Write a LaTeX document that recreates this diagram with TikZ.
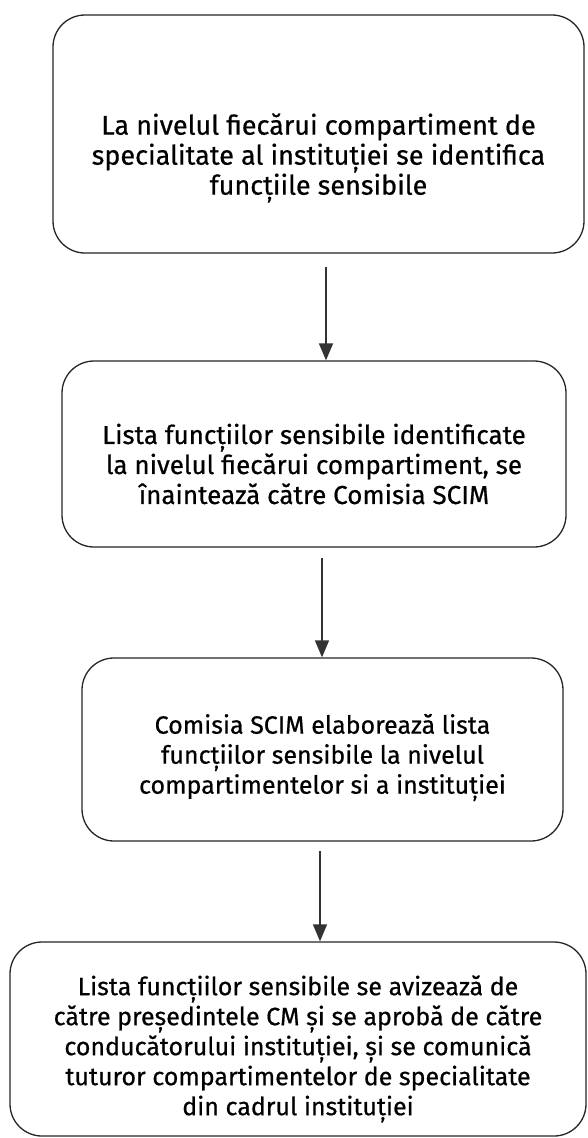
\documentclass[tikz,border=0pt]{standalone}
\usepackage{fontspec}
\setmainfont{Fira Sans}[FakeBold=0.6]
\usetikzlibrary{arrows.meta}
\begin{document}
\begin{tikzpicture}[x=1pt,y=1pt,
  flowbox/.style={draw=black!85, line width=1.3pt, rounded corners=32pt, inner sep=0pt},
  flowtext/.style={align=center, inner sep=0pt},
  arr/.style={draw=black!80, line width=1.5pt, -{Triangle[width=14pt,length=17pt]}}]
\useasboundingbox (0,0) rectangle (587,-1138);
\fill[white] (0,0) rectangle (587,-1138);
\node[flowbox, minimum width=531pt, minimum height=238pt] (b1) at (318.5,-134) {};
\node[flowtext, font=\fontsize{27}{30}\selectfont] (t1) at ([yshift=-24pt]b1.center)
  {La nivelul fiecărui compartiment de\\ specialitate al instituției se identifica\\ funcțiile sensibile};
\node[flowbox, minimum width=504pt, minimum height=186pt] (b2) at (314,-454) {};
\node[flowtext, font=\fontsize{26}{30}\selectfont] (t2) at ([yshift=-10pt]b2.center)
  {Lista funcțiilor sensibile identificate\\ la nivelul fiecărui compartiment, se\\ înaintează către Comisia SCIM};
\node[flowbox, minimum width=481pt, minimum height=183pt] (b3) at (322.5,-749.5) {};
\node[flowtext, font=\fontsize{25}{30}\selectfont] (t3) at ([yshift=-8pt]b3.center)
  {Comisia SCIM elaborează lista\\ funcțiilor sensibile la nivelul\\ compartimentelor si a instituției};
\node[flowbox, minimum width=576pt, minimum height=194pt] (b4) at (298,-1039) {};
\node[flowtext, font=\fontsize{25}{30}\selectfont] (t4) at ([yshift=-10pt]b4.center)
  {Lista funcțiilor sensibile se avizează de\\ către președintele CM și se aprobă de către\\ conducătorului instituției, și se comunică\\ tuturor compartimentelor de specialitate\\ din cadrul instituției};
\coordinate (a1) at (326,-267);
\coordinate (a2) at (322,-558);
\coordinate (a3) at (320,-851);
\draw[arr] (a1) -- (a1 |- b2.north);
\draw[arr] (a2) -- (a2 |- b3.north);
\draw[arr] (a3) -- (a3 |- b4.north);
\end{tikzpicture}
\end{document}
